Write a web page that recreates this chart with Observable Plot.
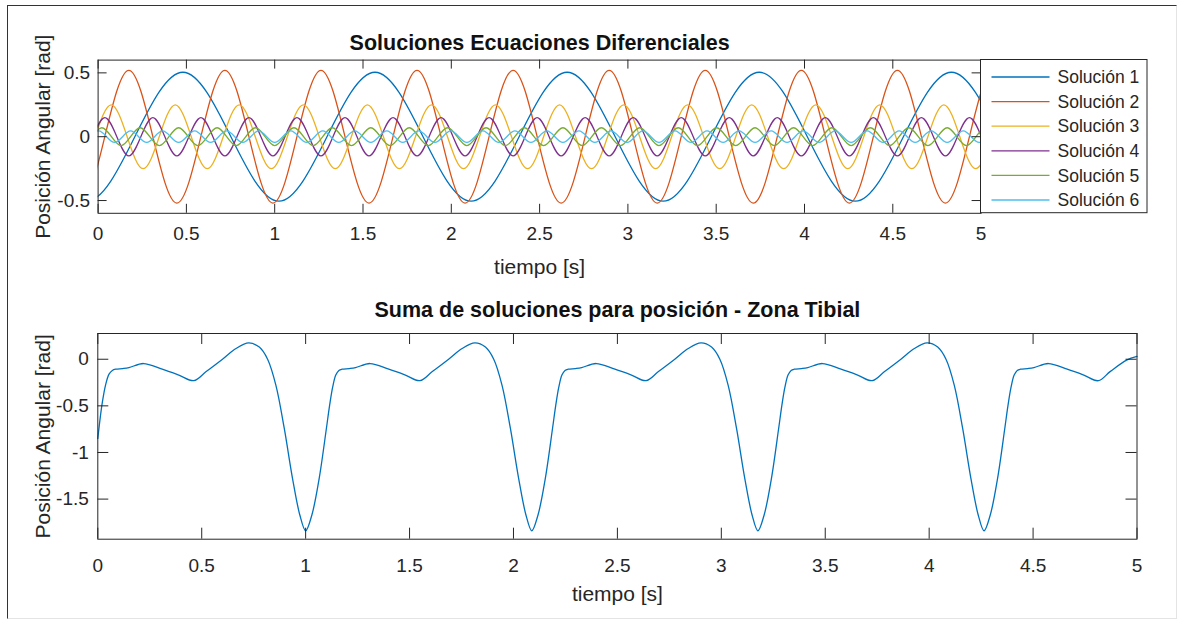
<!DOCTYPE html>
<html><head><meta charset="utf-8">
<script src="https://cdn.jsdelivr.net/npm/d3@7"></script>
<script src="https://cdn.jsdelivr.net/npm/@observablehq/plot@0.6"></script>
<style>
html,body{margin:0;padding:0;background:#fff;}
#fig{position:relative;width:1181px;height:621px;overflow:hidden;background:#fff;font-family:"Liberation Sans",Arial,Helvetica,sans-serif;}
#border{position:absolute;left:7px;top:5px;width:1170px;height:614px;border-top:1.5px solid #333;border-left:1.5px solid #333;border-right:1px solid #e4e4e4;border-bottom:1px solid #e4e4e4;box-sizing:border-box;}
.plot{position:absolute;left:0;}
#legend{position:absolute;}
</style></head><body><div id="fig"><div id="border"></div></div>
<script>
// ---------- data ----------
const seriesNames = ["Solución 1","Solución 2","Solución 3","Solución 4","Solución 5","Solución 6"];
const seriesColors = ["#0072BD","#D95319","#EDB120","#7E2F8E","#77AC30","#4DBEEE"];
const seriesAmplitudes = [0.505, 0.52, 0.25, 0.15, 0.07, 0.045];
// times of successive extrema of each solution (first one is a peak, then alternating)
const sol1Extrema = [-0.608,-0.064,0.48,1.024,1.568,2.112,2.656,3.2,3.744,4.288,4.832,5.376,5.92];
const sol2Extrema = [-0.37,-0.098,0.174,0.446,0.718,0.99,1.262,1.534,1.806,2.078,2.35,2.622,2.894,3.166,3.438,3.71,3.982,4.254,4.526,4.798,5.07,5.342];
const sol3Extrema = [-0.288,-0.107,0.074,0.255,0.437,0.618,0.799,0.981,1.162,1.343,1.525,1.706,1.888,2.069,2.25,2.432,2.613,2.794,2.976,3.157,3.338,3.52,3.701,3.882,4.064,4.245,4.426,4.608,4.789,4.97,5.152,5.333];
const sol4Extrema = [-0.234,-0.098,0.038,0.174,0.31,0.446,0.582,0.718,0.854,0.99,1.126,1.262,1.398,1.534,1.67,1.806,1.942,2.078,2.214,2.35,2.486,2.622,2.758,2.894,3.03,3.166,3.302,3.438,3.574,3.71,3.846,3.982,4.118,4.254,4.39,4.526,4.662,4.798,4.934,5.07,5.206];
const sol5Extrema = [-0.197,-0.088,0.021,0.13,0.238,0.347,0.456,0.565,0.674,0.782,0.891,1.0,1.109,1.218,1.326,1.435,1.544,1.653,1.762,1.87,1.979,2.088,2.197,2.306,2.414,2.523,2.632,2.741,2.85,2.958,3.067,3.176,3.285,3.394,3.502,3.611,3.72,3.829,3.938,4.046,4.155,4.264,4.373,4.482,4.59,4.699,4.808,4.917,5.026,5.135];
const sol6Extrema = [-0.179,-0.088,0.003,0.093,0.184,0.275,0.365,0.456,0.547,0.637,0.728,0.819,0.909,1.0,1.091,1.181,1.272,1.363,1.453,1.544,1.635,1.725,1.816,1.907,1.997,2.088,2.179,2.269,2.36,2.451,2.541,2.632,2.723,2.813,2.904,2.995,3.085,3.176,3.267,3.357,3.448,3.539,3.629,3.72,3.811,3.901,3.992,4.083,4.173,4.264,4.355,4.445,4.536,4.627,4.717,4.808,4.899,4.989,5.08,5.171];

// sum of solutions (bottom chart)
const sumTime = [0,0.012,0.022,0.037,0.054,0.07,0.086,0.12,0.15,0.22,0.31,0.39,0.462,
 0.52,0.6,0.665,0.726,0.777,0.817,0.857,0.897,0.937,0.972,1.0,1.03,1.065,1.1,1.115,1.13,1.145,1.16,1.175,1.21,1.24,1.31,1.4,1.48,1.55,
 1.608,1.688,1.753,1.814,1.865,1.905,1.945,1.985,2.025,2.06,2.088,2.118,2.153,2.188,2.203,2.218,2.233,2.248,2.263,2.298,2.328,2.398,2.488,2.568,2.638,
 2.696,2.776,2.841,2.902,2.953,2.993,3.033,3.073,3.113,3.148,3.176,3.206,3.241,3.276,3.291,3.306,3.321,3.336,3.351,3.386,3.416,3.486,3.576,3.656,3.726,
 3.784,3.864,3.929,3.99,4.041,4.081,4.121,4.161,4.201,4.236,4.264,4.294,4.329,4.364,4.379,4.394,4.409,4.424,4.439,4.474,4.504,4.574,4.664,4.744,4.814,
 4.872,4.95,5.0];
const sumValue = [-0.85,-0.62,-0.46,-0.28,-0.16,-0.12,-0.107,-0.10,-0.09,-0.046,-0.107,-0.17,-0.23,
 -0.135,0.0,0.115,0.175,0.13,0.0,-0.28,-0.74,-1.28,-1.67,-1.84,-1.67,-1.28,-0.74,-0.50,-0.30,-0.17,-0.12,-0.107,-0.10,-0.09,-0.046,-0.107,-0.17,-0.23,
 -0.135,0.0,0.115,0.175,0.13,0.0,-0.28,-0.74,-1.28,-1.67,-1.84,-1.67,-1.28,-0.74,-0.50,-0.30,-0.17,-0.12,-0.107,-0.10,-0.09,-0.046,-0.107,-0.17,-0.23,
 -0.135,0.0,0.115,0.175,0.13,0.0,-0.28,-0.74,-1.28,-1.67,-1.84,-1.67,-1.28,-0.74,-0.50,-0.30,-0.17,-0.12,-0.107,-0.10,-0.09,-0.046,-0.107,-0.17,-0.23,
 -0.135,0.0,0.115,0.175,0.13,0.0,-0.28,-0.74,-1.28,-1.67,-1.84,-1.67,-1.28,-0.74,-0.50,-0.30,-0.17,-0.12,-0.107,-0.10,-0.09,-0.046,-0.107,-0.17,-0.23,
 -0.13,-0.01,0.03];

const xTicks = [0,0.5,1,1.5,2,2.5,3,3.5,4,4.5,5];
const topYTicks = [-0.5,0,0.5];
const bottomYTicks = [-1.5,-1,-0.5,0];

const topTitle = "Soluciones Ecuaciones Diferenciales";
const bottomTitle = "Suma de soluciones para posición - Zona Tibial";
const xLabel = "tiempo [s]";
const yLabel = "Posición Angular [rad]";

// ---------- build ----------
const FONT = '"Liberation Sans", Arial, Helvetica, sans-serif';
const INK = "#262626";
const fmt = d => String(d);
const fig = document.getElementById("fig");

const allExtrema = [sol1Extrema, sol2Extrema, sol3Extrema, sol4Extrema, sol5Extrema, sol6Extrema];
const topData = [];
allExtrema.forEach((ext, i) => ext.forEach((t, j) => topData.push({series: seriesNames[i], t, v: (j % 2 === 0 ? 1 : -1) * seriesAmplitudes[i]})));
const sumData = sumTime.map((t, i) => ({t, v: sumValue[i]}));

// top chart geometry
const TH = 285;
const T = {l: 97.6, r: 980.6, t: 59.6, b: 212.8};
const TW = T.r - T.l, TFH = T.b - T.t;
const topPlot = Plot.plot({
  width: 1181, height: TH,
  marginLeft: T.l, marginRight: 1181 - T.r, marginTop: T.t, marginBottom: TH - T.b,
  style: {fontFamily: FONT, background: "transparent", color: INK, overflow: "visible"},
  x: {domain: [0, 5]}, y: {domain: [-0.6, 0.6]},
  marks: [
    ...seriesNames.map((name, i) => Plot.line(topData.filter(d => d.series === name), {x: "t", y: "v", stroke: seriesColors[i], strokeWidth: 1.3, curve: "monotone-x", clip: true})),
    Plot.tickX(xTicks, {x: d => d, insetTop: TFH - 9, stroke: INK}),
    Plot.tickX(xTicks, {x: d => d, insetBottom: TFH - 9, stroke: INK}),
    Plot.tickY(topYTicks, {y: d => d, insetRight: TW - 9, stroke: INK}),
    Plot.tickY(topYTicks, {y: d => d, insetLeft: TW - 9, stroke: INK}),
    Plot.axisX(xTicks, {tickSize: 0, tickPadding: 12.7, tickFormat: fmt, fontSize: 19, label: null}),
    Plot.axisY(topYTicks, {tickSize: 0, tickPadding: 8, tickFormat: fmt, fontSize: 19, label: null}),
    Plot.frame({stroke: INK}),
    Plot.text([topTitle], {text: d => d, frameAnchor: "top", dy: -17.2, fontSize: 21.5, fontWeight: "bold", lineAnchor: "middle", fill: "#111"}),
    Plot.text([xLabel], {text: d => d, frameAnchor: "bottom", dy: 53.5, fontSize: 21, lineAnchor: "middle"}),
    Plot.text([yLabel], {text: d => d, frameAnchor: "left", textAnchor: "middle", dx: -55.3, rotate: -90, fontSize: 21, lineAnchor: "middle"})
  ]
});
topPlot.classList.add("plot");
topPlot.style.top = "0px";
fig.appendChild(topPlot);

// bottom chart geometry
const BOFF = 285, BH = 336;
const B = {l: 97.3, r: 1136.5, t: 333 - BOFF, b: 538.7 - BOFF};
const BW = B.r - B.l, BFH = B.b - B.t;
const bottomPlot = Plot.plot({
  width: 1181, height: BH,
  marginLeft: B.l, marginRight: 1181 - B.r, marginTop: B.t, marginBottom: BH - B.b,
  style: {fontFamily: FONT, background: "transparent", color: INK, overflow: "visible"},
  x: {domain: [0, 5]}, y: {domain: [-1.93, 0.276]},
  marks: [
    Plot.line(sumData, {x: "t", y: "v", stroke: seriesColors[0], strokeWidth: 1.3, curve: "catmull-rom"}),
    Plot.tickX(xTicks, {x: d => d, insetTop: BFH - 11, stroke: INK}),
    Plot.tickX(xTicks, {x: d => d, insetBottom: BFH - 11, stroke: INK}),
    Plot.tickY(bottomYTicks, {y: d => d, insetRight: BW - 11, stroke: INK}),
    Plot.tickY(bottomYTicks, {y: d => d, insetLeft: BW - 11, stroke: INK}),
    Plot.axisX(xTicks, {tickSize: 0, tickPadding: 18.8, tickFormat: fmt, fontSize: 19, label: null}),
    Plot.axisY(bottomYTicks, {tickSize: 0, tickPadding: 9, tickFormat: fmt, fontSize: 19, label: null}),
    Plot.frame({stroke: INK}),
    Plot.text([bottomTitle], {text: d => d, frameAnchor: "top", dy: -23.2, fontSize: 21.5, fontWeight: "bold", lineAnchor: "middle", fill: "#111"}),
    Plot.text([xLabel], {text: d => d, frameAnchor: "bottom", dy: 54.6, fontSize: 21, lineAnchor: "middle"}),
    Plot.text([yLabel], {text: d => d, frameAnchor: "left", textAnchor: "middle", dx: -55, rotate: -90, fontSize: 21, lineAnchor: "middle"})
  ]
});
bottomPlot.classList.add("plot");
bottomPlot.style.top = BOFF + "px";
fig.appendChild(bottomPlot);

// legend (box to the right of the top axes)
const LW = 166.5, LH = TFH;
const legend = d3.select(fig).append("svg").attr("id", "legend")
  .attr("width", LW + 2).attr("height", LH + 2)
  .style("left", (T.r - 0.5) + "px").style("top", (T.t - 0.5) + "px")
  .style("font-family", FONT);
legend.append("rect").attr("x", 0.5).attr("y", 0.5).attr("width", LW).attr("height", LH)
  .attr("fill", "#fff").attr("stroke", INK);
seriesNames.forEach((name, i) => {
  const cy = 18 + i * 24.6;
  legend.append("line").attr("x1", 11.5).attr("x2", 69.5).attr("y1", cy).attr("y2", cy)
    .attr("stroke", seriesColors[i]).attr("stroke-width", 1.3);
  legend.append("text").attr("x", 77.5).attr("y", cy).attr("dy", "0.35em")
    .attr("font-size", 17.5).attr("fill", INK).text(name);
});
</script></body></html>
